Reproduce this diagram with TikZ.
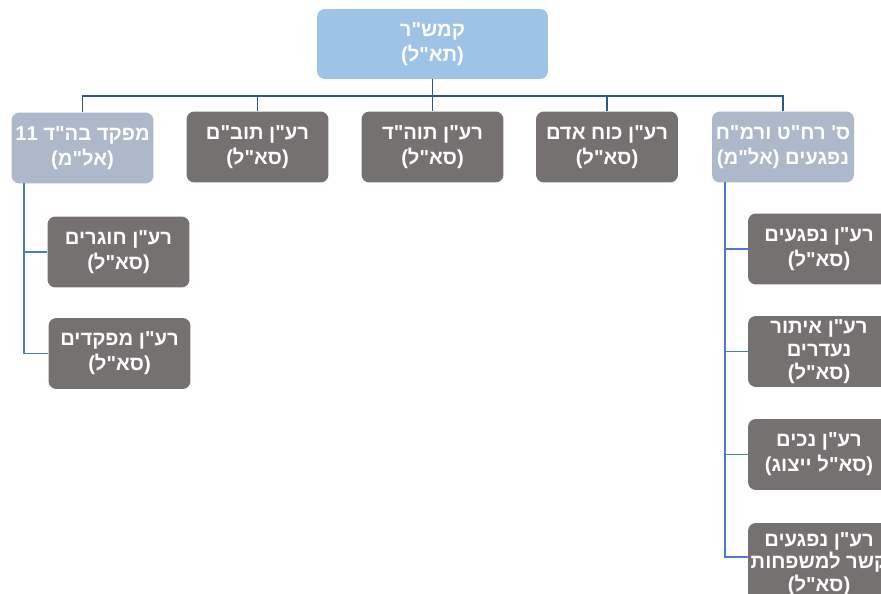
\documentclass[tikz,border=0pt]{standalone}
\usepackage{fontspec}
\setmainfont{Liberation Sans}
\newfontfamily\hebfont[Script=Hebrew,Ligatures=TeXOff]{Liberation Sans}
\TeXXeTstate=1
\usepackage{tikz}
\usetikzlibrary{calc}
\definecolor{topblue}{HTML}{9DC3E6}
\definecolor{greyblue}{HTML}{ADB9CA}
\definecolor{darkgrey}{HTML}{767171}
\definecolor{linkblue}{HTML}{4A7BD0}
\definecolor{busblue}{HTML}{2F5597}
\newcommand{\rtl}[1]{\beginR #1\endR}

\begin{document}
\begin{tikzpicture}[x=0.02cm,y=-0.02cm,
        box/.style={rounded corners=4.5pt,text=white,align=center,inner sep=1pt,
            minimum width=2.84cm,minimum height=1.42cm,
            font=\hebfont\bfseries\fontsize{11.5}{14.2}\selectfont},
        chief/.style={box,fill=topblue,minimum width=4.62cm,minimum height=1.4cm},
        head/.style={box,fill=greyblue},
        staff/.style={box,fill=darkgrey},
        tight/.style={font=\hebfont\bfseries\fontsize{11.5}{13}\selectfont},
        bus/.style={draw=busblue,line width=0.9pt},
        link/.style={draw=linkblue,line width=1.1pt}]
            \clip (0,0) rectangle (881,594);
            \fill[white] (0,0) rectangle (881,594);
            \node[chief] (kmshr) at (432.5,44) {\rtl{קמש"ר}\\\rtl{(תא"ל)}};
            \node[head] (bahad) at (82.5,148) {\rtl{מפקד בה"ד 11}\\\rtl{(אל"מ)}};
            \node[staff] (tovam) at (257.5,147) {\rtl{רע"ן תוב"ם}\\\rtl{(סא"ל)}};
            \node[staff] (tohad) at (432.5,147) {\rtl{רע"ן תוה"ד}\\\rtl{(סא"ל)}};
            \node[staff] (koach) at (607,147) {\rtl{רע"ן כוח אדם}\\\rtl{(סא"ל)}};
            \node[head] (nifgaim) at (783,147) {\rtl{ס' רח"ט ורמ"ח}\\\rtl{נפגעים (אל"מ)}};
            \node[staff] (chogrim) at (118.5,252) {\rtl{רע"ן חוגרים}\\\rtl{(סא"ל)}};
            \node[staff] (mefakdim) at (119.5,353.5) {\rtl{רע"ן מפקדים}\\\rtl{(סא"ל)}};
            \node[staff] (nifgrn) at (819,249) {\rtl{רע"ן נפגעים}\\\rtl{(סא"ל)}};
            \node[staff,tight] (eitur) at (819,351.5) {\rtl{רע"ן איתור}\\\rtl{נעדרים}\\\rtl{(סא"ל)}};
            \node[staff] (nechim) at (819,454.5) {\rtl{רע"ן נכים}\\\rtl{(סא"ל ייצוג)}};
            \node[staff,tight,minimum height=1.64cm] (kesher) at (819,564) {\rtl{רע"ן נפגעים}\\\rtl{קשר למשפחות}\\\rtl{(סא"ל)}};
            \coordinate (bus) at (432.5,96);
            \coordinate (ltop) at (24,183.5);
            \coordinate (rtop) at (725,182.5);
            \draw[bus] (kmshr) -- (tohad);
            \foreach \n in {bahad,tovam,koach,nifgaim}
                \draw[bus] (\n.north) |- (bus);
            \foreach \n in {chogrim,mefakdim}
                \draw[link] (ltop) |- (\n.west);
            \foreach \n in {nifgrn,eitur,nechim}
                \draw[link] (rtop) |- (\n.west);
            \draw[link] (rtop) |- ($(kesher.north west)+(0,34)$);
        \end{tikzpicture}
\end{document}
